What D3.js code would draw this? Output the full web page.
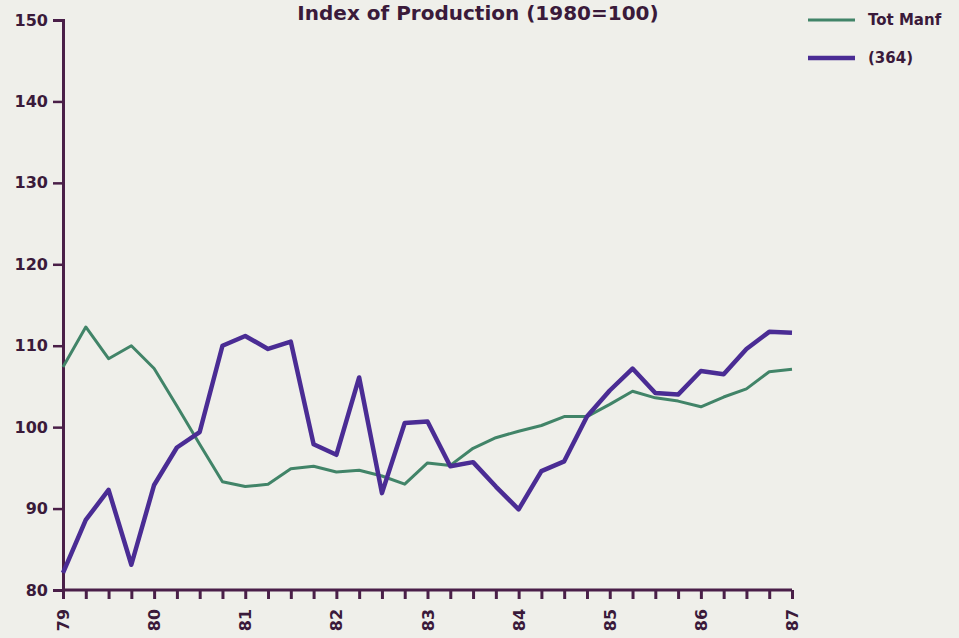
<!DOCTYPE html>
<html>
<head>
<meta charset="utf-8">
<script src="https://cdn.jsdelivr.net/npm/d3@7"></script>
<style>
body{margin:0;background:#efefea;}
svg{display:block;}
text{font-family:"DejaVu Sans",Verdana,sans-serif;font-weight:bold;fill:#3a1a3a;}
</style>
</head>
<body>
<svg id="chart" width="959" height="638"></svg>
<script>
// quarterly index, 79Q1 .. 87Q1
let totManf = [107.4,112.3,108.4,110.0,107.2,102.6,97.9,93.3,92.7,93.0,94.9,95.2,94.5,94.7,94.0,93.0,
    95.6,95.3,97.4,98.7,99.5,100.2,101.3,101.3,102.8,104.4,103.6,103.2,102.5,103.7,104.7,106.8,107.1];
let s364 = [82.1,88.6,92.3,83.1,92.9,97.5,99.4,110.0,111.2,109.6,110.5,97.9,96.6,106.1,91.9,100.5,
    100.7,95.2,95.7,92.7,89.9,94.6,95.8,101.3,104.5,107.2,104.2,104.0,106.9,106.5,109.6,111.7,111.6];
let yearLabels = ['79','80','81','82','83','84','85','86','87'];
let yTicks = [80,90,100,110,120,130,140,150];
let seriesNames = ['Tot Manf','(364)'];

let svg = d3.select('#chart');
let pl = 63, pr = 792, pt = 20, pb = 590;
let x = d3.scaleLinear().domain([0, totManf.length-1]).range([pl, pr]);
let y = d3.scaleLinear().domain([80,150]).range([pb, pt]);
let axisCol = '#4a1f48';
let colors = ['#418468','#4a2c94'];

// title
svg.append('text').attr('x',478).attr('y',20).attr('text-anchor','middle')
    .style('font-size','20px').text('Index of Production (1980=100)');

// y axis
let yAxis = svg.append('g').attr('transform',`translate(${pl},0)`)
    .call(d3.axisLeft(y).tickValues(yTicks).tickSize(10).tickPadding(5));
yAxis.select('.domain').attr('stroke',axisCol).attr('stroke-width',3);
yAxis.selectAll('.tick line').attr('stroke',axisCol).attr('stroke-width',2.5);
yAxis.selectAll('.tick text').style('font-size','16px').attr('fill','#3a1a3a');

// x axis, quarterly ticks, year labels
let xAxis = svg.append('g').attr('transform',`translate(0,${pb})`)
    .call(d3.axisBottom(x).tickValues(d3.range(totManf.length)).tickSize(9).tickFormat(''));
xAxis.select('.domain').attr('stroke',axisCol).attr('stroke-width',3).attr('d',`M${pl},0H${pr}`);
xAxis.selectAll('.tick line').attr('stroke',axisCol).attr('stroke-width',3);
svg.append('g').selectAll('text').data(yearLabels).join('text')
    .attr('transform',(d,i)=>`translate(${x(i*4)+6},620) rotate(-90)`)
    .attr('text-anchor','middle')
    .style('font-size','16px')
    .text(d=>d);

// lines
let line = d3.line().x((d,i)=>x(i)).y(d=>y(d));
svg.append('path').datum(totManf).attr('d',line).attr('fill','none')
    .attr('stroke',colors[0]).attr('stroke-width',3).attr('stroke-linejoin','round');
svg.append('path').datum(s364).attr('d',line).attr('fill','none')
    .attr('stroke',colors[1]).attr('stroke-width',4.5).attr('stroke-linejoin','round');

// legend
let leg = svg.append('g').selectAll('g').data(seriesNames).join('g')
    .attr('transform',(d,i)=>`translate(808,${20+i*38})`);
leg.append('line').attr('x1',0).attr('x2',47).attr('y1',0).attr('y2',0)
    .attr('stroke',(d,i)=>colors[i]).attr('stroke-width',(d,i)=>i?4.5:3);
leg.append('text').attr('x',60).attr('y',5).style('font-size','15px').text(d=>d);
</script>
</body>
</html>
